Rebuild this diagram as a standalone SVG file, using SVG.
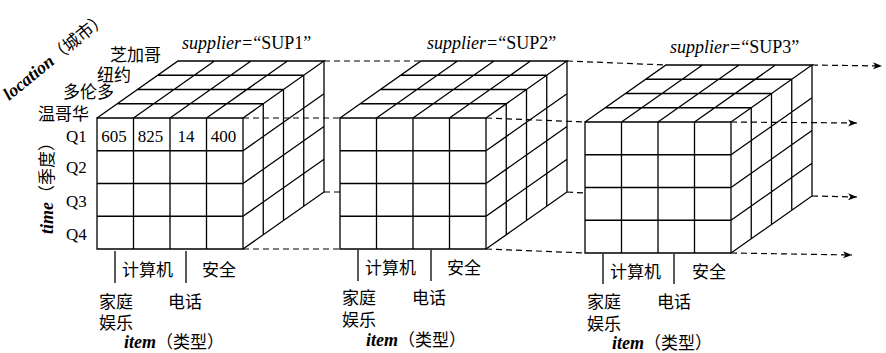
<svg xmlns="http://www.w3.org/2000/svg" xmlns:xlink="http://www.w3.org/1999/xlink" width="886" height="353" viewBox="0 0 886 353">
<style>
.edge{fill:none;stroke:#000;stroke-width:1.3;stroke-linejoin:miter}
.dash{fill:none;stroke:#000;stroke-width:1.2;stroke-dasharray:6 4}
.tick{stroke:#000;stroke-width:1.3}
.cjk{font-family:'Noto Sans CJK SC',sans-serif;font-size:17px;fill:#000}
.num{font-family:'Liberation Serif',serif;font-size:17px;fill:#000}
.sup{font-family:'Liberation Serif','Noto Sans CJK SC',serif;font-size:18px;fill:#000}
.axis{font-family:'Liberation Serif','Noto Sans CJK SC',serif;font-size:18px;fill:#000}
.axis .en{font-weight:bold;font-style:italic}
.axis .zh{font-family:'Noto Sans CJK SC',sans-serif;font-size:17px}
</style>
<defs>
<marker id="arrow" markerUnits="userSpaceOnUse" markerWidth="10" markerHeight="8" refX="9" refY="3.5" orient="auto">
<path d="M0,0 L9,3.5 L0,7 L2.5,3.5 Z" fill="#000"/>
</marker>
<g id="cube">
<path class="edge" d="M0,0 H146 V131 H0 Z M36.5,0 V131 M73,0 V131 M109.5,0 V131 M0,32.75 H146 M0,65.5 H146 M0,98.25 H146"/>
<path class="edge" d="M0,0 L81,-57 H227 L146,0 M36.5,0 L117.5,-57 M73,0 L154,-57 M109.5,0 L190.5,-57 M20.25,-14.25 H166.25 M40.5,-28.5 H186.5 M60.75,-42.75 H206.75"/>
<path class="edge" d="M227,-57 V74 L146,131 M166.25,-14.25 V116.75 M186.5,-28.5 V102.5 M206.75,-42.75 V88.25 M146,32.75 L227,-24.25 M146,65.5 L227,8.5 M146,98.25 L227,41.25"/>
</g>
</defs>

<g id="connectors">
<path class="dash" d="M324,61 L421,61 M567,61 L666,65"/>
<path class="dash" d="M812,65 L882,66" marker-end="url(#arrow)"/>
<path class="dash" d="M243,118 L340,118 M486,118 L585,122"/>
<path class="dash" d="M731,122 L857,123" marker-end="url(#arrow)"/>
<path class="dash" d="M324,192 L340,192 M567,192 L585,193"/>
<path class="dash" d="M812,196 L857,197" marker-end="url(#arrow)"/>
<path class="dash" d="M243,249 L340,249 M486,249 L585,253"/>
<path class="dash" d="M731,253 L852,255" marker-end="url(#arrow)"/>
</g>

<g id="axis-location">
<text class="axis" transform="translate(9,101) rotate(-39)"><tspan class="en">location</tspan><tspan class="zh">（城市）</tspan></text>
<text class="cjk" x="110" y="61">芝加哥</text>
<text class="cjk" x="97" y="81">纽约</text>
<text class="cjk" x="63" y="98">多伦多</text>
<text class="cjk" x="38" y="120">温哥华</text>
</g>

<g id="axis-time">
<text class="axis" transform="translate(53,234) rotate(-90)"><tspan class="en">time</tspan><tspan class="zh">（季度）</tspan></text>
<text class="num" x="66" y="142">Q1</text>
<text class="num" x="66" y="173">Q2</text>
<text class="num" x="66" y="207">Q3</text>
<text class="num" x="66" y="240">Q4</text>
</g>

<g id="cube-sup1">
<use xlink:href="#cube" href="#cube" transform="translate(97,118)"/>
<text class="sup" x="182" y="49"><tspan font-style="italic">supplier=</tspan>“SUP1”</text>
<g class="num" text-anchor="middle">
<text x="114" y="142">605</text>
<text x="150.5" y="142">825</text>
<text x="186" y="142">14</text>
<text x="223.5" y="142">400</text>
</g>
<path class="tick" d="M115,251 V283 M186,251 V283"/>
<text class="cjk" x="122" y="276">计算机</text>
<text class="cjk" x="202" y="276">安全</text>
<text class="cjk" x="99" y="308">家庭</text>
<text class="cjk" x="99" y="329">娱乐</text>
<text class="cjk" x="168" y="308">电话</text>
<text class="axis" x="124" y="348"><tspan class="en">item</tspan><tspan class="zh">（类型）</tspan></text>
</g>

<g id="cube-sup2">
<use xlink:href="#cube" href="#cube" transform="translate(340,118)"/>
<text class="sup" x="427" y="49"><tspan font-style="italic">supplier=</tspan>“SUP2”</text>
<path class="tick" d="M358,250 V281 M431,250 V281"/>
<text class="cjk" x="365" y="274">计算机</text>
<text class="cjk" x="447" y="274">安全</text>
<text class="cjk" x="342" y="304">家庭</text>
<text class="cjk" x="342" y="326">娱乐</text>
<text class="cjk" x="412" y="304">电话</text>
<text class="axis" x="366" y="346"><tspan class="en">item</tspan><tspan class="zh">（类型）</tspan></text>
</g>

<g id="cube-sup3">
<use xlink:href="#cube" href="#cube" transform="translate(585,122)"/>
<text class="sup" x="670" y="53"><tspan font-style="italic">supplier=</tspan>“SUP3”</text>
<path class="tick" d="M603,254 V284 M674,254 V284"/>
<text class="cjk" x="610" y="278">计算机</text>
<text class="cjk" x="692" y="278">安全</text>
<text class="cjk" x="587" y="308">家庭</text>
<text class="cjk" x="587" y="330">娱乐</text>
<text class="cjk" x="657" y="308">电话</text>
<text class="axis" x="612" y="349"><tspan class="en">item</tspan><tspan class="zh">（类型）</tspan></text>
</g>
</svg>
